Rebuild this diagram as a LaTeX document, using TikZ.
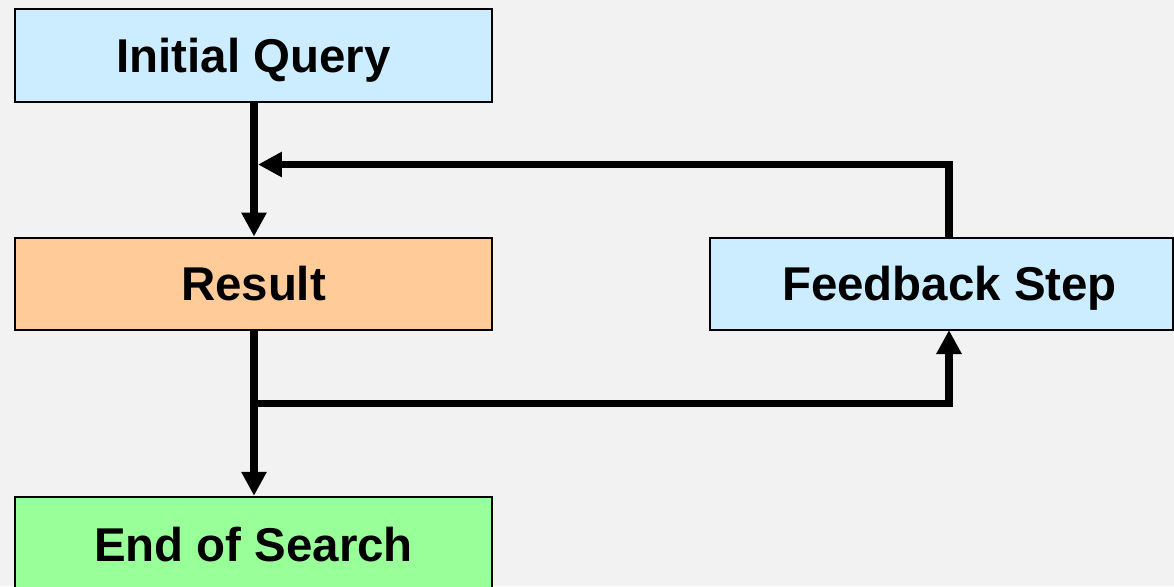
\documentclass[tikz,border=0pt]{standalone}
\usepackage{fontspec}
\setmainfont{Liberation Sans}
\usetikzlibrary{arrows.meta}
\definecolor{bgray}{HTML}{F2F2F2}
\definecolor{qblue}{HTML}{CCECFF}
\definecolor{rorange}{HTML}{FFCC99}
\definecolor{egreen}{HTML}{99FF99}
\tikzset{
    stepbox/.style={draw=black, line width=1.4pt, minimum height=1.85cm, inner sep=0pt,
        text height=19.3pt, text depth=0pt,
        font=\fontsize{27}{30}\selectfont\bfseries},
    flow/.style={line width=4.2pt, -{Triangle[length=0.48cm, width=0.48cm]}},
}
\begin{document}
\begin{tikzpicture}[x=0.02cm, y=-0.02cm]
\useasboundingbox[fill=bgray](0,0) rectangle (1174,586);
\node[stepbox, fill=qblue, minimum width=9.54cm] (query) at (253.5,55.5) {Initial Query};
\node[stepbox, fill=rorange, minimum width=9.54cm] (result) at (253.5,284) {Result};
\node[stepbox, fill=qblue, minimum width=9.26cm] (feedback) at (941.5,284) {\hspace{0.32cm}Feedback Step};
\node[stepbox, fill=egreen, minimum width=9.54cm, minimum height=1.92cm] (end) at (253.5,545) {End of Search};
\coordinate (join) at (258,164.5);
\coordinate (split) at (254,403.5);
\coordinate (fbtop) at (949,238);
\coordinate (fbbot) at (949,330);
% main line down
\draw[flow](query.south-|split)--(result.north-|split);
\draw[flow](result.south-|split)--(end.north-|split);
% loop back through the feedback step
\draw[flow](split)-|(fbbot);
\draw[flow](fbtop)|-(join);
\end{tikzpicture}
\end{document}
